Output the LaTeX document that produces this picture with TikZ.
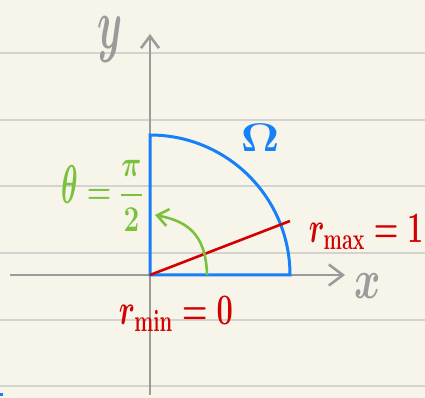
\RequirePackage{fix-cm}
\documentclass[tikz,border=0pt]{standalone}
\usepackage{amsmath,amssymb}
\usepackage{xcolor}
\usepackage{tikz}
\usetikzlibrary{arrows.meta,positioning}
\definecolor{paper}{HTML}{F7F5EA}
\definecolor{ruleline}{HTML}{D3D3D1}
\definecolor{axisgray}{HTML}{9B9B9B}
\definecolor{domblue}{HTML}{1680F9}
\definecolor{radred}{HTML}{D20000}
\definecolor{anggreen}{HTML}{7CC13C}
\newcommand{\tallth}{\scalebox{1}[1.5]{$\theta$}}

\begin{document}
\begin{tikzpicture}[x=1pt,y=1pt,
  hand/.style={inner sep=0pt,font=\fontsize{#1}{#1}\selectfont\boldmath},
  axis/.style={draw=axisgray,line width=2.6pt},
  barb/.style={-{Straight Barb[length=#1,width=1.5*#1,line width=2.6pt]}}]
\fill[paper] (0,0) rectangle (425,398);
\useasboundingbox (0,0) rectangle (425,398);
\foreach \ly in {345,278,212,145,78,12}
  \draw[ruleline,line width=1.4pt] (0,\ly) -- (425,\ly);
\fill[domblue] (0,1.5) rectangle (3,4.5);

\coordinate (O) at (150,123);
\coordinate (xs) at (10,123);
\coordinate (xe) at (345,123);
\coordinate (ys) at (150,3);
\coordinate (ye) at (150,364);
\coordinate (top) at (150,263);
\coordinate (rend) at (290,177);
\coordinate (a0) at (207,123);
\coordinate (a1) at (155,183);

\draw[axis,barb=14pt] (xs) -- (xe);
\draw[axis,barb=12pt] (ys) -- (ye);

\draw[domblue,line width=3pt] (O) -- (top) arc[start angle=90,end angle=0,radius=140] -- cycle;
\draw[radred,line width=2.6pt] (O) -- (rend);
\draw[anggreen,line width=2.6pt,-{Straight Barb[length=11pt,width=17pt,line width=2.6pt]}]
  (a0) .. controls (206,165) and (186,177) .. (a1);

\node[hand=40,text=axisgray,yscale=1.8] (ylab) at (110,358) {$y$};
\node[hand=40,text=axisgray,yscale=1.4] (xlab) at (368,112) {$x$};
\node[hand=40,text=domblue,xscale=1.2] (om) at (260,260) {$\Omega$};
\node[hand=28,text=anggreen,yscale=1.3] (th) at (102,202) {$\tallth=\dfrac{\pi}{2}$};
\node[hand=28,text=radred,yscale=1.55] (rmax) at (366,166) {$r_{\max}=1$};
\node[hand=29,text=radred,yscale=1.5] (rmin) at (176,84) {$r_{\min}=0$};
\end{tikzpicture}
\end{document}
